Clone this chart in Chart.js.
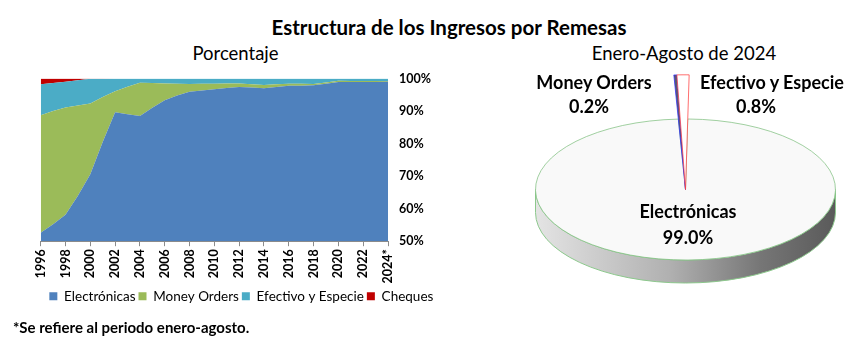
<!DOCTYPE html>
<html>
<head>
<meta charset="utf-8">
<script src="https://cdn.jsdelivr.net/npm/chart.js@4.4.1/dist/chart.umd.min.js"></script>
<style>
  html, body { margin: 0; padding: 0; background: #fff; }
  body { width: 864px; height: 339px; position: relative; overflow: hidden; font-family: Lato, "Open Sans", sans-serif; color: #000; }
  .t { position: absolute; white-space: nowrap; text-align: center; }
  canvas { position: absolute; }
</style>
</head>
<body>
<div class="t" style="left:0;width:898px;top:14px;height:26px;line-height:26px;font-size:20.5px;font-weight:bold;">Estructura de los Ingresos por Remesas</div>
<div class="t" style="left:135px;width:201px;top:42px;height:22px;line-height:22px;font-size:18.5px;">Porcentaje</div>
<div class="t" style="left:584px;width:200px;top:42px;height:22px;line-height:22px;font-size:18.5px;">Enero-Agosto de 2024</div>

<canvas id="area" width="464" height="260" style="left:-12px;top:60px;"></canvas>
<canvas id="pie" width="301" height="301" style="left:535px;top:39px;"></canvas>

<div class="t" style="left:494px;width:200px;top:71px;height:22px;line-height:22px;font-size:18px;font-weight:bold;">Money Orders</div>
<div class="t" style="left:489px;width:200px;top:95px;height:22px;line-height:22px;font-size:18px;font-weight:bold;">0.2%</div>
<div class="t" style="left:672px;width:200px;top:71px;height:22px;line-height:22px;font-size:18px;font-weight:bold;">Efectivo y Especie</div>
<div class="t" style="left:656px;width:200px;top:95px;height:22px;line-height:22px;font-size:18px;font-weight:bold;">0.8%</div>
<div class="t" style="left:588px;width:200px;top:200px;height:22px;line-height:22px;font-size:18px;font-weight:bold;">Electrónicas</div>
<div class="t" style="left:588px;width:200px;top:226px;height:22px;line-height:22px;font-size:18px;font-weight:bold;">99.0%</div>

<div class="t" style="left:13px;text-align:left;top:318px;height:18px;line-height:18px;font-size:15px;font-weight:bold;">*Se refiere al periodo enero-agosto.</div>

<script>
// ---------- Data ----------
const years = ['1996','1997','1998','1999','2000','2001','2002','2003','2004','2005',
  '2006','2007','2008','2009','2010','2011','2012','2013','2014','2015',
  '2016','2017','2018','2019','2020','2021','2022','2023','2024*'];

// Shares (%) of each channel per year
const electronicas = [52.6,55.2,58.1,64.0,70.6,80.5,89.6,89.0,88.5,91.0,
  93.3,94.8,95.9,96.3,96.7,97.1,97.4,97.2,97.0,97.4,
  97.8,97.8,97.9,98.4,98.9,98.9,98.9,98.9,99.0];
const moneyOrders = [36.1,34.8,33.0,27.7,21.7,13.8,6.5,8.5,10.2,7.6,
  5.2,3.6,2.4,2.1,1.7,1.4,1.1,1.0,1.0,0.8,
  0.6,0.6,0.4,0.4,0.4,0.3,0.3,0.3,0.2];
const efectivo = [9.5,8.6,7.9,7.8,7.6,5.65,3.88,2.5,1.3,1.4,
  1.5,1.6,1.7,1.6,1.6,1.5,1.5,1.8,2.0,1.8,
  1.6,1.6,1.7,1.2,0.7,0.8,0.8,0.8,0.8];
const cheques = [1.8,1.4,1.0,0.5,0.1,0.05,0.02,0,0,0,
  0,0,0,0,0,0,0,0,0,0,
  0,0,0,0,0,0,0,0,0];

const yTicks = [50,60,70,80,90,100];

const pieLabels = ['Electrónicas','Money Orders','Efectivo y Especie'];
const pieValues = [99.0, 0.2, 0.8];

// ---------- Area chart ----------
const FONT = 'Lato, "Open Sans", sans-serif';
Chart.defaults.font.family = FONT;
Chart.defaults.color = '#000';

new Chart(document.getElementById('area'), {
  type: 'line',
  data: {
    labels: years,
    datasets: [
      { label: 'Electrónicas', data: electronicas, backgroundColor: '#4f81bd', borderColor: '#4f81bd', fill: 'origin' },
      { label: 'Money Orders', data: moneyOrders, backgroundColor: '#9bbb59', borderColor: '#9bbb59', fill: '-1' },
      { label: 'Efectivo y Especie', data: efectivo, backgroundColor: '#4bacc6', borderColor: '#4bacc6', fill: '-1' },
      { label: 'Cheques', data: cheques, backgroundColor: '#c00000', borderColor: '#c00000', fill: '-1' }
    ]
  },
  options: {
    responsive: false,
    animation: false,
    events: [],
    elements: { point: { radius: 0 }, line: { borderWidth: 0, tension: 0 } },
    layout: { padding: { left: 52.7, right: 10, top: 8, bottom: 7 } },
    plugins: {
      legend: {
        position: 'bottom',
        labels: { boxWidth: 8, boxHeight: 8, padding: 3, font: { size: 13.5 } }
      },
      tooltip: { enabled: false },
      filler: { propagate: false }
    },
    scales: {
      x: {
        offset: false,
        border: { display: true, color: '#8c8c8c' },
        grid: {
          drawOnChartArea: false, drawTicks: true, tickLength: 5,
          color: (c) => (c.index % 2 === 0 ? '#8c8c8c' : 'rgba(0,0,0,0)')
        },
        ticks: {
          autoSkip: false, minRotation: 90, maxRotation: 90, padding: 3,
          font: { size: 12.5, weight: 'bold' },
          callback: function (v, i) { return i % 2 === 0 ? this.getLabelForValue(v) : ''; }
        }
      },
      y: {
        position: 'right',
        stacked: true,
        min: 50, max: 100,
        afterBuildTicks: (s) => { s.ticks = yTicks.map(v => ({ value: v })); },
        border: { display: false },
        grid: { display: false, drawTicks: false },
        ticks: { padding: 11, font: { size: 12.5, weight: 'bold' }, callback: (v) => v + '%' }
      }
    }
  }
});

// ---------- 3D-looking pie ----------
const K = 0.47;      // vertical flattening
const DEPTH = 23;    // side height in px
const pieReach = [null, 244, 244]; // longer radius for the exploded thin slices

const pie3d = {
  id: 'pie3d',
  beforeDatasetsDraw(chart) {
    const ctx = chart.ctx;
    const meta = chart.getDatasetMeta(0);
    pieReach.forEach((r, i) => { if (r) meta.data[i].outerRadius = r; });
    const arc = meta.data[0];
    const cx = arc.x, cy = arc.y, rx = arc.outerRadius, ry = rx * K;
    ctx.save();
    const g = ctx.createLinearGradient(cx - rx, 0, cx + rx, 0);
    g.addColorStop(0, '#e4e4e4');
    g.addColorStop(0.45, '#b0b0b0');
    g.addColorStop(0.75, '#767676');
    g.addColorStop(1, '#5a5a5a');
    ctx.beginPath();
    ctx.moveTo(cx + rx, cy);
    ctx.lineTo(cx + rx, cy + DEPTH);
    ctx.ellipse(cx, cy + DEPTH, rx, ry, 0, 0, Math.PI, false);
    ctx.lineTo(cx - rx, cy);
    ctx.ellipse(cx, cy, rx, ry, 0, Math.PI, 0, true);
    ctx.closePath();
    ctx.fillStyle = g;
    ctx.fill();
    ctx.strokeStyle = '#8cc88c';
    ctx.lineWidth = 1;
    ctx.stroke();
    ctx.restore();
    ctx.save();
    ctx.translate(0, cy);
    ctx.scale(1, K);
    ctx.translate(0, -cy);
  },
  afterDatasetsDraw(chart) {
    chart.ctx.restore();
  }
};

new Chart(document.getElementById('pie'), {
  type: 'pie',
  data: {
    labels: pieLabels,
    datasets: [{
      data: pieValues,
      backgroundColor: ['#f9f9f9', '#5a5a6e', '#ffffff'],
      borderColor: ['#7fbf7f', '#2b2bff', '#ff3b3b'],
      borderWidth: 1,
      hoverOffset: 0,
      clip: false
    }]
  },
  options: {
    responsive: false,
    animation: false,
    events: [],
    rotation: 0.86,
    layout: { padding: 0 },
    plugins: { legend: { display: false }, tooltip: { enabled: false } }
  },
  plugins: [pie3d]
});
</script>
</body>
</html>
